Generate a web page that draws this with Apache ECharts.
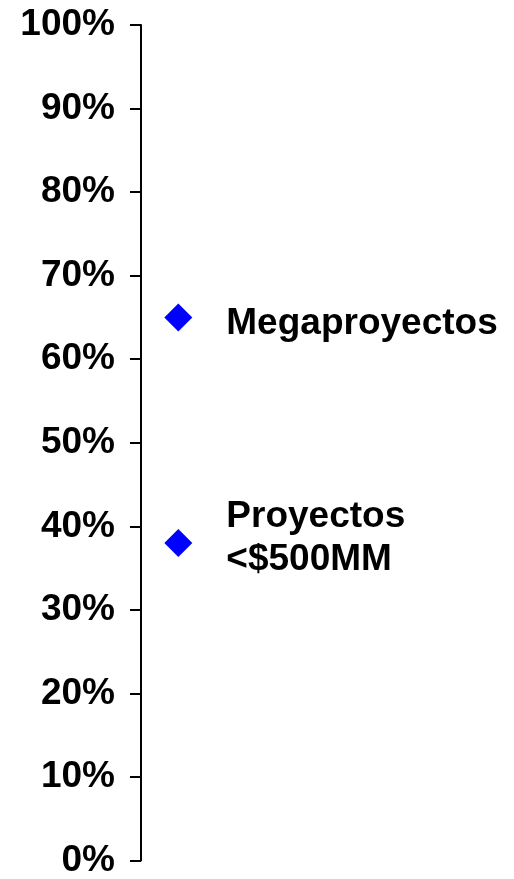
<!DOCTYPE html>
<html>
<head>
<meta charset="utf-8">
<script src="https://cdn.jsdelivr.net/npm/echarts@6/dist/echarts.min.js"></script>
<style>
  html, body { margin: 0; padding: 0; background: #fff; }
  #chart { width: 514px; height: 879px; }
</style>
</head>
<body>
<div id="chart"></div>
<script>
// Share of projects (percent) by project size
const categories = ['Megaproyectos', 'Proyectos\n<$500MM'];
const shareValues = [65, 38];
const xPositions = [1, 1];
const yTicks = [0, 10, 20, 30, 40, 50, 60, 70, 80, 90, 100];

const FONT = '"Liberation Sans", Arial, sans-serif';

const labelOffsets = [[0, 6], [0, -5]];

const points = categories.map((name, i) => ({
  name: name,
  value: [xPositions[i], shareValues[i]],
  label: { offset: labelOffsets[i] }
}));

const chart = echarts.init(document.getElementById('chart'), null, { renderer: 'canvas' });
chart.setOption({
  animation: false,
  backgroundColor: '#ffffff',
  grid: { left: 141, right: 0, top: 25, bottom: 15, containLabel: false },
  xAxis: {
    type: 'value', min: 0, max: 10,
    show: false
  },
  yAxis: {
    type: 'value',
    min: yTicks[0],
    max: yTicks[yTicks.length - 1],
    interval: 10,
    axisLine: { show: true, lineStyle: { color: '#000', width: 2 } },
    axisTick: { show: true, inside: false, length: 11, lineStyle: { color: '#000', width: 2 } },
    splitLine: { show: false },
    axisLabel: {
      margin: 26,
      color: '#000',
      fontFamily: FONT,
      fontWeight: 'bold',
      fontSize: 37,
      formatter: v => v + '%'
    }
  },
  series: [{
    type: 'scatter',
    symbol: 'diamond',
    symbolSize: 28,
    itemStyle: { color: '#0000FF', opacity: 1 },
    emphasis: { disabled: true },
    data: points,
    label: {
      show: true,
      position: 'right',
      distance: 34,
      formatter: p => p.name,
      color: '#000',
      opacity: 1,
      fontFamily: FONT,
      fontWeight: 'bold',
      fontSize: 37,
      lineHeight: 43,
      align: 'left'
    }
  }]
});
</script>
</body>
</html>
